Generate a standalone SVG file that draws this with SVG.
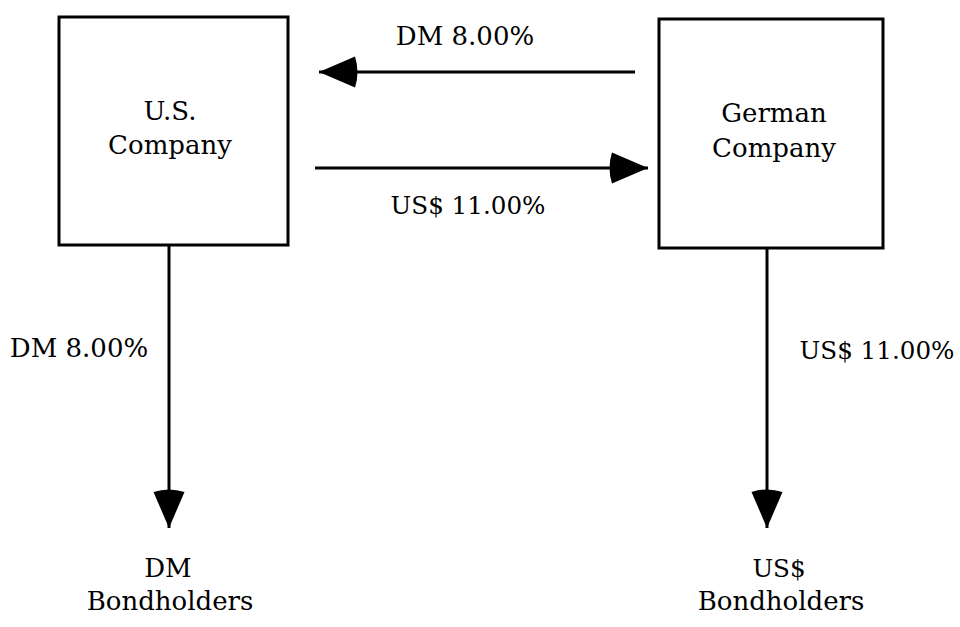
<svg xmlns="http://www.w3.org/2000/svg" width="960" height="627" viewBox="0 0 960 627">
<defs>
<style>
.box{fill:#fff;stroke:#000;stroke-width:3}
.lbl{font-family:"DejaVu Serif","Liberation Serif",serif;font-size:26px;fill:#000;text-anchor:middle}
.usd{font-size:24.6px}
.con{stroke:#000;stroke-width:3;fill:none;marker-end:url(#ah)}
</style>
<marker id="ah" viewBox="-6 0 42 31" refX="36" refY="15.5" markerWidth="42" markerHeight="31" markerUnits="userSpaceOnUse" orient="auto" overflow="visible">
<path d="M0,0 L36,15.5 L0,31 Q-5,15.5 0,0 Z" fill="#000"/>
</marker>
</defs>
<rect width="960" height="627" fill="#fff"/>
<g id="connectors">
<line class="con" x1="635" y1="72" x2="319" y2="72"/>
<line class="con" x1="315" y1="168" x2="648" y2="168"/>
<line class="con" x1="169" y1="245" x2="169" y2="528"/>
<line class="con" x1="767" y1="248" x2="767" y2="528"/>
<text class="lbl" x="465" y="45">DM 8.00%</text>
<text class="lbl usd" x="468" y="214">US$ 11.00%</text>
<text class="lbl" x="79" y="357">DM 8.00%</text>
<text class="lbl usd" x="877" y="359">US$ 11.00%</text>
</g>
<g id="us-company">
<rect class="box" x="59" y="17" width="229" height="228"/>
<text class="lbl" x="170" y="120">U.S.</text>
<text class="lbl" x="170" y="154">Company</text>
</g>
<g id="german-company">
<rect class="box" x="659" y="19" width="224" height="229"/>
<text class="lbl" x="774" y="122">German</text>
<text class="lbl" x="774" y="157">Company</text>
</g>
<g id="dm-bondholders">
<text class="lbl" x="168" y="577">DM</text>
<text class="lbl" x="170" y="610">Bondholders</text>
</g>
<g id="us-bondholders">
<text class="lbl usd" x="779" y="577">US$</text>
<text class="lbl" x="781" y="610">Bondholders</text>
</g>
</svg>
